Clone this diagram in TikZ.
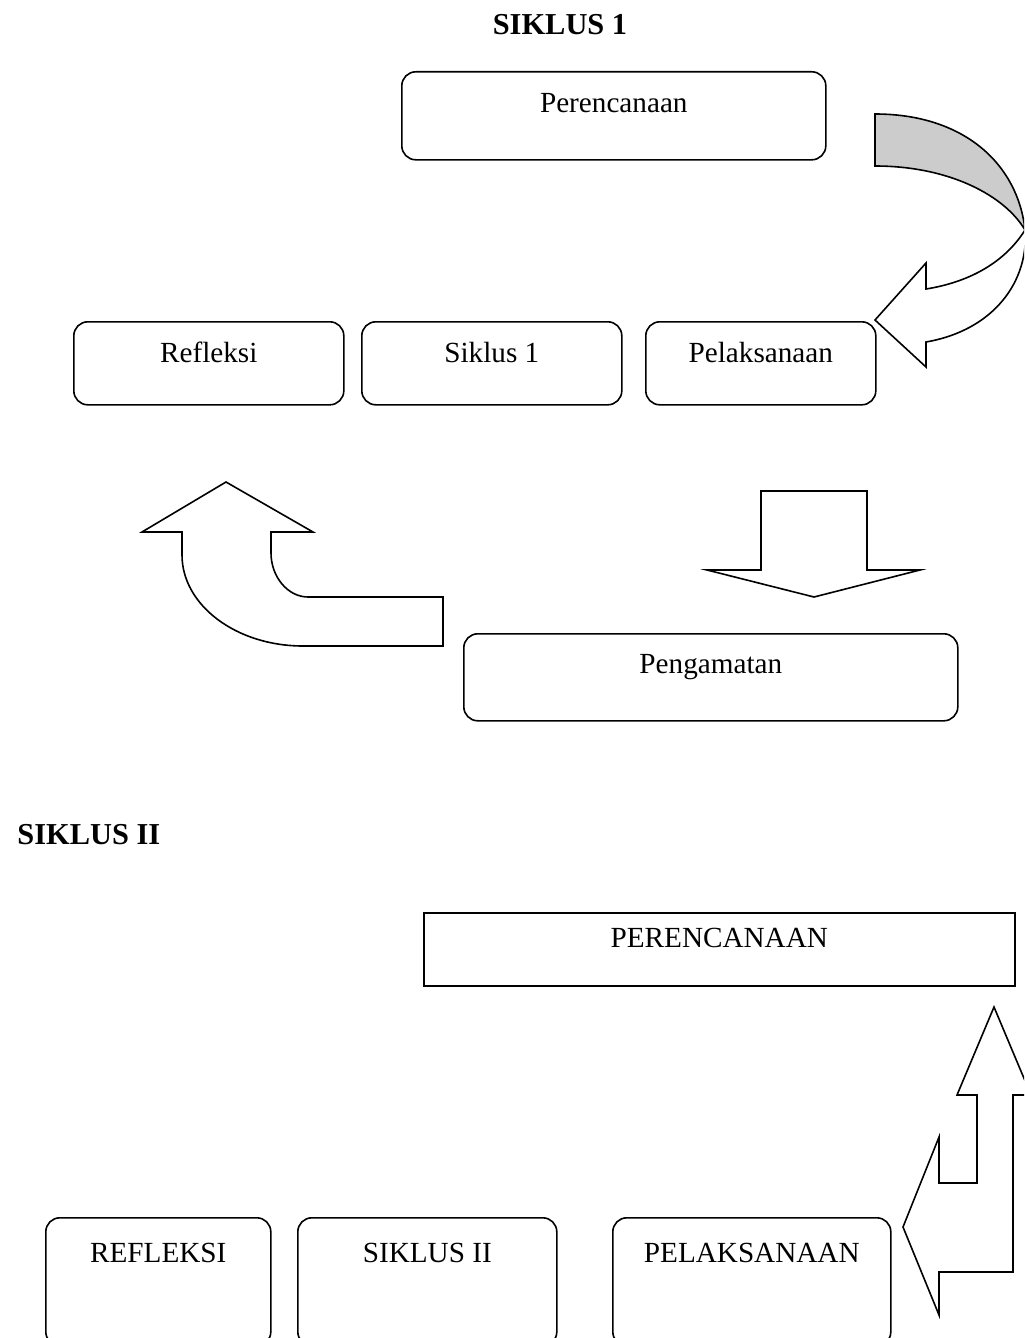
\documentclass[tikz,border=0pt]{standalone}
\usepackage{fontspec}
\setmainfont{Liberation Serif}
\tikzset{
  stage/.style={draw, rounded corners=7pt, inner sep=0pt, anchor=north west, font=\fontsize{14.6}{17}\selectfont},
  flatstage/.style={stage, sharp corners},
  blockarrow/.style={draw, fill=white},
  heading/.style={inner sep=0pt, anchor=base, font=\fontsize{15.2}{18}\selectfont\bfseries}
}

\begin{document}
\begin{tikzpicture}[x=0.5pt, y=-0.5pt, line width=0.8pt]
\useasboundingbox (0,0) rectangle (1024,1338);
\clip (0,0) rectangle (1024,1338);

% siklus 1
\node [heading] (judul1) at (560,35) {SIKLUS 1};
\node [stage, minimum width=212pt, text height=20.5pt, text depth=23.5pt] (rencana1) at (401,71) {Perencanaan};
\foreach \x/\w/\name/\txt in {73/135pt/refleksi1/Refleksi, 361/130pt/siklus1/Siklus 1, 645/115pt/laksana1/Pelaksanaan}
  {\node [stage, minimum width=\w, text height=20.5pt, text depth=21pt] (\name) at (\x,321) {\txt};}
\node [stage, minimum width=247pt, text height=20pt, text depth=23.5pt] (amat1) at (463,633) {Pengamatan};

% curved arrow, back face grey
\draw [fill=gray!40] (875,114) .. controls (965,114) and (1018,165) .. (1025,230)
  .. controls (1005,196) and (950,166) .. (875,166) -- cycle;
\draw [blockarrow] (1025,230) .. controls (1005,262) and (970,282) .. (926,289)
  -- (926,263) -- (875,320) -- (926,367) -- (926,342)
  .. controls (995,330) and (1029,280) .. (1025,230);

% pengamatan arrows
\draw [blockarrow] (761,491) -- (867,491) -- (867,570) -- (920,570) -- (814,597) -- (707,570) -- (761,570) -- cycle;
\draw [blockarrow] (226,482) -- (313,532) -- (271,532) -- (271,553) .. controls (271,577) and (288,597) .. (308,597)
  -- (443,597) -- (443,646) -- (303,646) .. controls (236,646) and (182,605) .. (182,555) -- (182,532) -- (142,532) -- cycle;

% siklus 2
\node [heading, anchor=base east] (judul2) at (161,844) {SIKLUS II};
\node [flatstage, minimum width=295.5pt, text height=17.5pt, text depth=19pt] (rencana2) at (423,912) {PERENCANAAN};
\foreach \x/\w/\name/\txt in {45/112.5pt/refleksi2/REFLEKSI, 297/129.5pt/siklus2/SIKLUS II, 612/139pt/laksana2/PELAKSANAAN}
  {\node [stage, minimum width=\w, text height=22.5pt, text depth=41.5pt] (\name) at (\x,1217) {\txt};}

\draw [blockarrow] (994,1007) -- (1031,1095) -- (1013,1095) -- (1013,1272) -- (939,1272) -- (939,1315) -- (903,1227)
  -- (939,1137) -- (939,1183) -- (977,1183) -- (977,1095) -- (957,1095) -- cycle;

\end{tikzpicture}
\end{document}
